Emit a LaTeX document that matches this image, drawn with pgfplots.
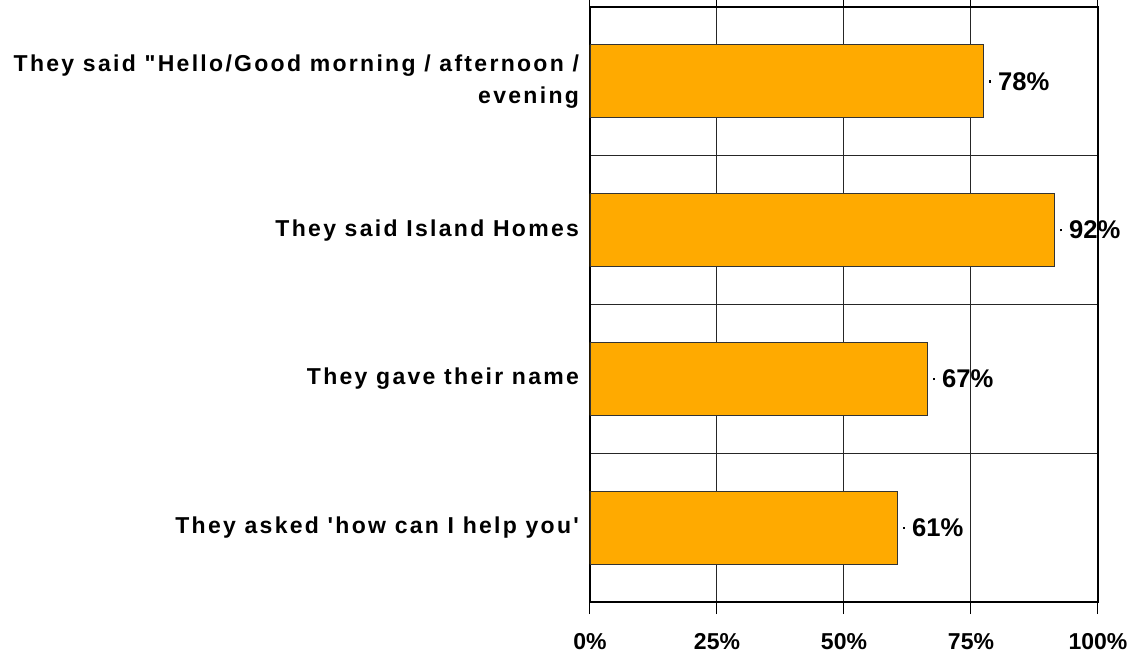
\documentclass[border=0pt]{standalone}
\usepackage{fontspec}
\setmainfont{Liberation Sans}
\newfontfamily\catfont[LetterSpace=10]{Liberation Sans}
\usepackage{pgfplots}
\pgfplotsset{compat=1.18}
\definecolor{barorange}{RGB}{255,170,0}
\begin{document}
\begin{tikzpicture}
\path[use as bounding box] (0,0) rectangle (568.5pt,326pt);
\begin{axis}[
  at={(295pt,25pt)}, anchor=south west,
  scale only axis, width=254pt, height=297.5pt,
  xbar, bar width=36.5pt,
  xmin=0, xmax=100,
  ymin=-0.5, ymax=3.5, y dir=reverse,
  xtick={0,25,50,75,100},
  xticklabels={0\%,25\%,50\%,75\%,100\%},
  xtick align=outside, major tick length=6pt,
  xticklabel style={font=\fontsize{11.5}{13}\selectfont\bfseries, yshift=-6pt},
  ytick={0,1,2,3},
  yticklabels={{They said "Hello/Good morning / afternoon /\\evening},{They said Island Homes},{They gave their name},{They asked 'how can I help you'}},
  yticklabel style={font=\fontsize{11.5}{16}\selectfont\bfseries\catfont, align=right, xshift=4pt},
  ytick style={draw=none},
  minor ytick={0.5,1.5,2.5},
  xmajorgrids, yminorgrids,
  major grid style={black!85, line width=0.5pt},
  minor grid style={black!85, line width=0.5pt},
  axis line style={black, line width=0.6pt},
  tick style={black, line width=0.5pt},
  point meta=explicit symbolic,
  nodes near coords={\raisebox{0.3em}{\rule{1.1pt}{1.1pt}}\hspace{3.4pt}\pgfplotspointmeta\%},
  nodes near coords style={font=\fontsize{12.8}{14}\selectfont\bfseries, anchor=west, inner sep=0pt, xshift=2.5pt},
]
\addplot[fill=barorange, draw=black!80, line width=0.4pt] coordinates {
  (77.5,0) [78]
  (91.5,1) [92]
  (66.5,2) [67]
  (60.6,3) [61]
};
\end{axis}
\end{tikzpicture}
\end{document}
